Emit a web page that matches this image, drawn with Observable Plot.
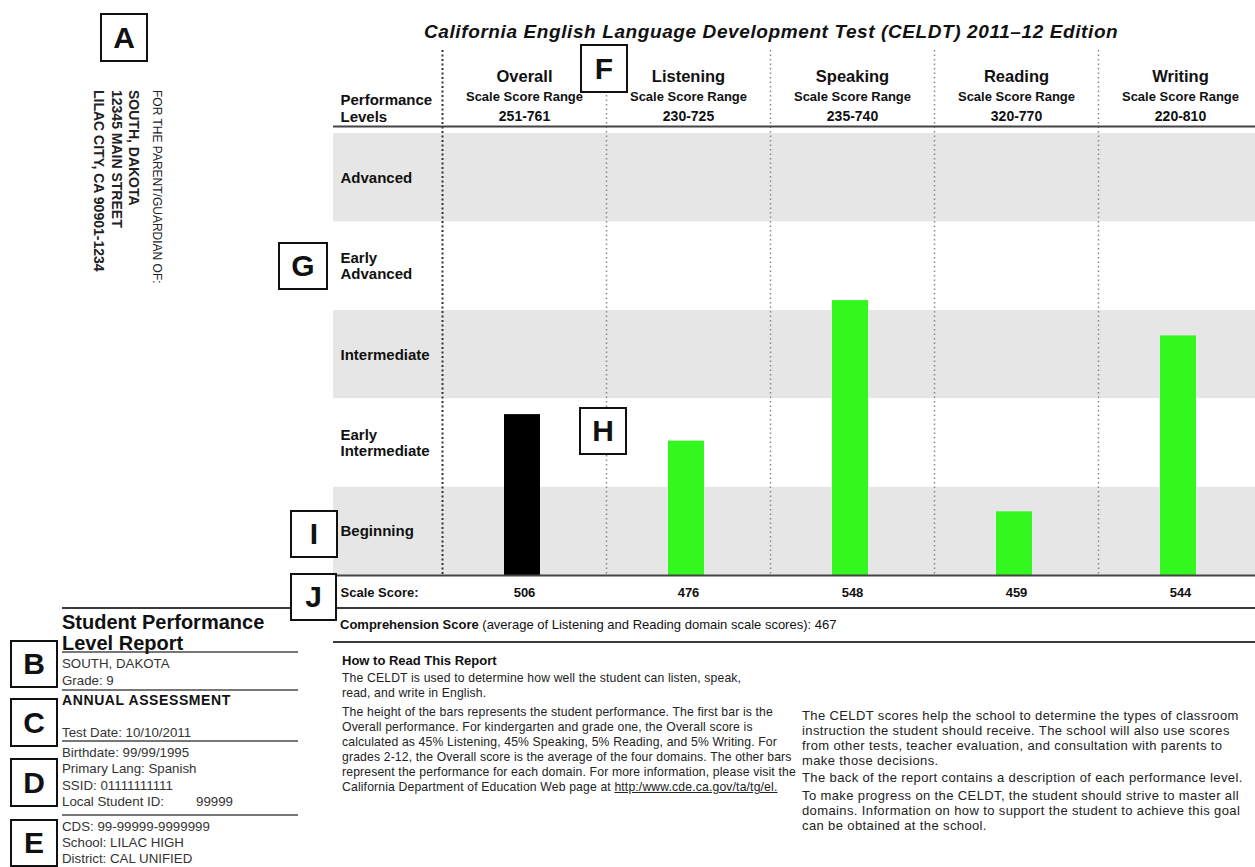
<!DOCTYPE html>
<html><head><meta charset="utf-8">
<script src="https://cdn.jsdelivr.net/npm/d3@7"></script>
<script src="https://cdn.jsdelivr.net/npm/@observablehq/plot@0.6"></script>
<style>
body{margin:0;background:#fff;font-family:"Liberation Sans",Arial,sans-serif;}
#page{position:relative;width:1255px;height:867px;overflow:hidden;background:#fff;}
#page svg{position:absolute;left:0;top:0;}
.abs{position:absolute;white-space:nowrap;color:#222;}
.box{position:absolute;border:2px solid #111;background:#fff;box-sizing:border-box;display:flex;align-items:center;justify-content:center;font:bold 30px "Liberation Sans",Arial,sans-serif;color:#111;}
.hr{position:absolute;background:#3a3a3a;}
.vert{position:absolute;writing-mode:vertical-rl;white-space:nowrap;color:#222;}
.info{font-size:13.3px;line-height:16px;color:#333;}
.paraL{font-size:12.2px;line-height:15px;letter-spacing:0.15px;color:#222;}
.paraR{font-size:13px;line-height:15px;letter-spacing:0.38px;color:#222;}
</style></head><body><div id="page"></div>
<script>
// ---- data ----
const domains = ["Overall", "Listening", "Speaking", "Reading", "Writing"];
const scoreRanges = ["251-761", "230-725", "235-740", "320-770", "220-810"];
const scaleScores = [506, 476, 548, 459, 544];
// bar height, in performance-level units (0 = bottom of Beginning, 5 = top of Advanced)
const barLevels = [1.82, 1.52, 3.11, 0.72, 2.71];
const levels = ["Beginning", "Early Intermediate", "Intermediate", "Early Advanced", "Advanced"];
const levelLabels = ["Beginning", "Early\nIntermediate", "Intermediate", "Early\nAdvanced", "Advanced"];
const comprehensionScore = 467;
const title = "California English Language Development Test (CELDT) 2011\u201312 Edition";

const bands = levels.map((name, i) => ({name, label: levelLabels[i], lo: i, hi: i + 1, shaded: i % 2 === 0}));
const bars = domains.map((d, i) => ({domain: d, level: barLevels[i], score: scaleScores[i], range: scoreRanges[i], overall: i === 0}));

const page = document.getElementById("page");
const font = '"Liberation Sans", Arial, sans-serif';

const chart = Plot.plot({
  width: 1255, height: 650,
  marginTop: 50, marginBottom: 75, marginLeft: 333, marginRight: 0,
  x: {type: "band", domain: domains, range: [442, 1262], padding: 0, axis: null},
  y: {domain: [0, 5], range: [575, 133], axis: null},
  color: {type: "identity"},
  style: {fontFamily: font, color: "#111", background: "transparent", overflow: "visible"},
  marks: [
    Plot.rect(bands, {y1: "lo", y2: "hi", fill: d => d.shaded ? "#e6e6e6" : "#ffffff"}),
    Plot.ruleX(domains.slice(0, 1), {x: d => d, dx: -82, stroke: "#333", strokeWidth: 2, strokeDasharray: "2,2.5"}),
    Plot.ruleX(domains.slice(1), {x: d => d, dx: -82, stroke: "#8a8a8a", strokeWidth: 1.5, strokeDasharray: "1.5,3"}),
    Plot.barY(bars, {x: "domain", y: "level", fill: d => d.overall ? "#000000" : "#33f71f", insetLeft: 62, insetRight: 66}),
    Plot.ruleY([5], {dy: -7, stroke: "#444", strokeWidth: 2}),
    Plot.ruleY([0], {stroke: "#444", strokeWidth: 2}),
    Plot.text(bands, {y: d => d.lo + 0.5, text: "label", frameAnchor: "left", textAnchor: "start", lineAnchor: "middle", dx: 7, fontWeight: "bold", fontSize: 15, lineHeight: 1.08, fill: "#111"}),
    Plot.text(["Performance\nLevels"], {text: d => d, frameAnchor: "top-left", textAnchor: "start", lineAnchor: "middle", dx: 7, dy: 57.5, fontWeight: "bold", fontSize: 15, lineHeight: 1.13, fill: "#111"}),
    Plot.text(bars, {x: "domain", text: "domain", frameAnchor: "top", lineAnchor: "middle", dy: 26, fontWeight: "bold", fontSize: 16.5, fill: "#111"}),
    Plot.text(bars, {x: "domain", text: () => "Scale Score Range", frameAnchor: "top", lineAnchor: "middle", dy: 46, fontWeight: "bold", fontSize: 13, fill: "#111"}),
    Plot.text(bars, {x: "domain", text: "range", frameAnchor: "top", lineAnchor: "middle", dy: 66, fontWeight: "bold", fontSize: 14, fill: "#111"}),
    Plot.text(bars, {x: "domain", text: "score", frameAnchor: "bottom", lineAnchor: "middle", dy: 17, fontWeight: "bold", fontSize: 13, fill: "#111"}),
    Plot.text(["Scale Score:"], {text: d => d, frameAnchor: "bottom-left", textAnchor: "start", lineAnchor: "middle", dx: 7, dy: 17, fontWeight: "bold", fontSize: 13, fill: "#111"})
  ]
});
page.appendChild(chart);

function add(html, cls, css) {
  const el = document.createElement("div");
  el.className = cls;
  el.innerHTML = html;
  Object.assign(el.style, css);
  page.appendChild(el);
  return el;
}

// title
add(title, "abs", {left: "424px", top: "21px", font: `italic bold 19px ${font}`, letterSpacing: "0.6px", color: "#111"});

// horizontal rules outside the plot frame
add("", "hr", {left: "62px", top: "607px", width: "1193px", height: "2px"});
add("", "hr", {left: "333px", top: "641px", width: "922px", height: "2px"});
[651, 689, 740, 814].forEach(y => add("", "hr", {left: "62px", top: y + "px", width: "236px", height: "1.5px", background: "#777"}));

// comprehension score
add(`<b>Comprehension Score</b> (average of Listening and Reading domain scale scores): ${comprehensionScore}`, "abs",
  {left: "340px", top: "617px", fontSize: "13px", lineHeight: "16px", color: "#111"});

// mailing address (rotated)
add("FOR THE PARENT/GUARDIAN OF:", "vert", {left: "149px", top: "90px", width: "16px", lineHeight: "16px", fontSize: "12px"});
add("SOUTH, DAKOTA", "vert", {left: "125px", top: "90px", width: "18px", lineHeight: "18px", fontSize: "14px", fontWeight: "bold"});
add("12345 MAIN STREET", "vert", {left: "108px", top: "90px", width: "18px", lineHeight: "18px", fontSize: "14px", fontWeight: "bold"});
add("LILAC CITY, CA 90901-1234", "vert", {left: "90px", top: "90px", width: "18px", lineHeight: "18px", fontSize: "14px", fontWeight: "bold"});

// left info panel
add("Student Performance", "abs", {left: "62px", top: "611px", font: `bold 20px/22px ${font}`, color: "#111"});
add("Level Report", "abs", {left: "62px", top: "632px", font: `bold 20px/22px ${font}`, color: "#111"});
const info = [
  ["SOUTH, DAKOTA", 656], ["Grade: 9", 673], ["Test Date: 10/10/2011", 725],
  ["Birthdate: 99/99/1995", 745], ["Primary Lang: Spanish", 761], ["SSID: 01111111111", 778],
  ["Local Student ID:<span style=\"margin-left:32px\">99999</span>", 794],
  ["CDS: 99-99999-9999999", 819], ["School: LILAC HIGH", 835], ["District: CAL UNIFIED", 851]
];
info.forEach(([t, y]) => add(t, "abs info", {left: "62px", top: y + "px"}));
add("ANNUAL ASSESSMENT", "abs", {left: "62px", top: "692px", font: `bold 14px/16px ${font}`, letterSpacing: "0.6px", color: "#111"});

// how to read
add("How to Read This Report", "abs", {left: "342px", top: "653px", font: `bold 13px/16px ${font}`, color: "#111"});
add("The CELDT is used to determine how well the student can listen, speak,<br>read, and write in English.", "abs paraL", {left: "342px", top: "671px"});
add("The height of the bars represents the student performance. The first bar is the<br>Overall performance. For kindergarten and grade one, the Overall score is<br>calculated as 45% Listening, 45% Speaking, 5% Reading, and 5% Writing. For<br>grades 2-12, the Overall score is the average of the four domains. The other bars<br>represent the performance for each domain. For more information, please visit the<br>California Department of Education Web page at <u>http:/www.cde.ca.gov/ta/tg/el.</u>", "abs paraL", {left: "342px", top: "705px"});
add("The CELDT scores help the school to determine the types of classroom<br>instruction the student should receive. The school will also use scores<br>from other tests, teacher evaluation, and consultation with parents to<br>make those decisions.", "abs paraR", {left: "802px", top: "708px"});
add("The back of the report contains a description of each performance level.", "abs paraR", {left: "802px", top: "770px"});
add("To make progress on the CELDT, the student should strive to master all<br>domains. Information on how to support the student to achieve this goal<br>can be obtained at the school.", "abs paraR", {left: "802px", top: "788px"});

// annotation letter boxes
const boxes = [
  ["A", 100, 13, 48, 49], ["F", 580, 44, 48, 49], ["G", 278, 242, 50, 48], ["H", 579, 407, 48, 48],
  ["I", 290, 510, 48, 48], ["J", 290, 573, 47, 48], ["B", 10, 640, 48, 48], ["C", 10, 698, 48, 49],
  ["D", 10, 758, 48, 49], ["E", 10, 819, 48, 48]
];
boxes.forEach(([t, x, y, w, h]) => add(t, "box", {left: x + "px", top: y + "px", width: w + "px", height: h + "px"}));
</script></body></html>
